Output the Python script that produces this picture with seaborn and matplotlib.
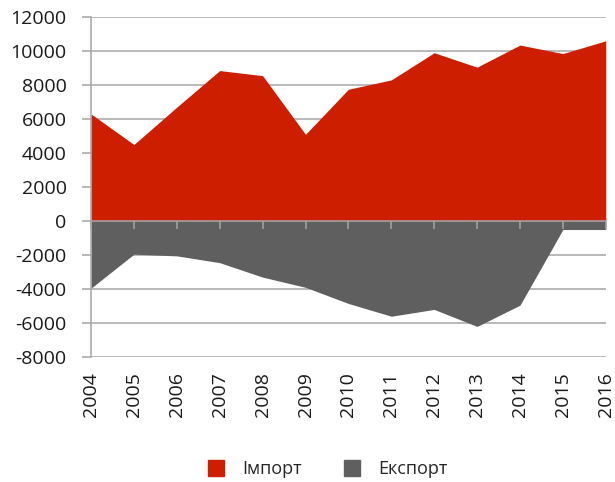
import numpy as np
import matplotlib
matplotlib.use('Agg')
import matplotlib.pyplot as plt
from matplotlib.lines import Line2D
import seaborn as sns

sns.set_style('white')
plt.rcParams['font.family'] = ['Open Sans', 'DejaVu Sans']
plt.rcParams['axes.unicode_minus'] = False

years = [2004, 2005, 2006, 2007, 2008, 2009, 2010, 2011, 2012, 2013, 2014, 2015, 2016]
imports = [6300, 4500, 6700, 8850, 8550, 5100, 7750, 8300, 9900, 9050, 10350, 9850, 10600]
exports = [-3950, -1950, -2050, -2450, -3300, -3900, -4850, -5600, -5200, -6200, -4950, -500, -500]
series_names = ['Імпорт', 'Експорт']
colors = ['#CD1E00', '#5F5F5F']
grid_col = '#A6A6A6'

fig = plt.figure(figsize=(6.15, 4.82), dpi=100)
ax = fig.add_axes([0.148, 0.2593, 0.837, 0.7054])

ax.fill_between(years, 0, imports, color=colors[0], linewidth=0, zorder=2)
ax.fill_between(years, 0, exports, color=colors[1], linewidth=0, zorder=2)

ax.set_xlim(years[0], years[-1])
ax.set_ylim(-8000, 12000)
ax.set_yticks(np.arange(-8000, 12001, 2000))
ax.grid(axis='y', color=grid_col, linewidth=1.1, zorder=1)
ax.grid(axis='x', visible=False)

for s in ['top', 'right', 'bottom']:
    ax.spines[s].set_visible(False)
ax.spines['left'].set_color(grid_col)
ax.spines['left'].set_linewidth(1.1)

ax.tick_params(axis='y', which='major', direction='out', length=6.5, width=1.1,
               color=grid_col, labelsize=14, labelcolor='#1a1a1a', pad=11, left=True)
ax.set_xticks(years)
ax.set_xticklabels([str(y) for y in years], rotation=90)
ax.tick_params(axis='x', length=0, labelsize=14, labelcolor='#1a1a1a', pad=11)

# horizontal axis line drawn at zero, with its tick marks
zero_ax = ax.secondary_xaxis(8000 / 20000)
zero_ax.set_xticks(years)
zero_ax.set_xticklabels([])
zero_ax.tick_params(direction='out', length=6, width=1.1, color=grid_col)
zero_ax.spines['bottom'].set_color(grid_col)
zero_ax.spines['bottom'].set_linewidth(1.1)
zero_ax.set_zorder(3)

handles = [Line2D([], [], marker='s', linestyle='none', markersize=11, color=c) for c in colors]
fig.legend(handles, series_names, loc='center', bbox_to_anchor=(0.525, 0.027), ncol=2,
           frameon=False, fontsize=13, handletextpad=0.45, columnspacing=1.8)

fig.savefig('out.png', dpi=100)
